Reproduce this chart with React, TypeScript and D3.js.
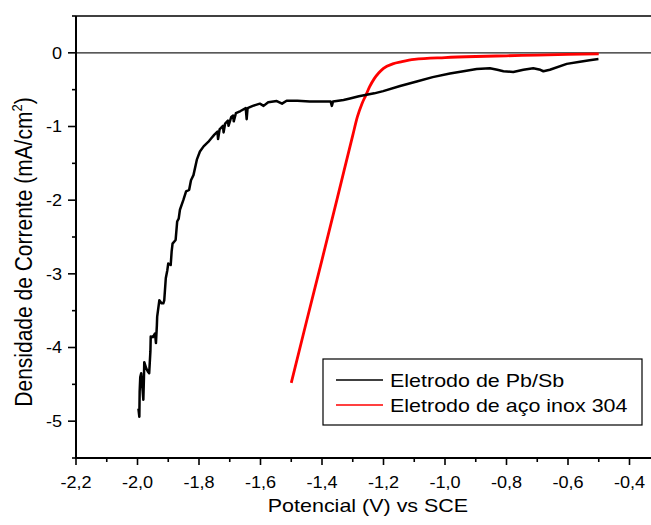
import React from "react";
import * as d3 from "d3";

const W = 651;
const H = 525;

// Pb/Sb electrode series (potential V, current density mA/cm2)
const pbPotential = [
  -1.997, -1.994, -1.993, -1.991, -1.988, -1.984, -1.981, -1.979, -1.978, -1.972,
  -1.966, -1.962, -1.958, -1.957, -1.95, -1.943, -1.94, -1.937, -1.936, -1.929,
  -1.922, -1.916, -1.913, -1.908, -1.903, -1.9, -1.892, -1.889, -1.886, -1.876,
  -1.871, -1.866, -1.862, -1.851, -1.842, -1.832, -1.826, -1.818, -1.807, -1.797,
  -1.785, -1.77, -1.76, -1.75, -1.74, -1.738, -1.733, -1.722, -1.72, -1.715,
  -1.706, -1.704, -1.695, -1.689, -1.687, -1.68, -1.665, -1.648, -1.645, -1.642,
  -1.625, -1.602, -1.59, -1.575, -1.547, -1.53, -1.515, -1.48, -1.44, -1.4,
  -1.372, -1.368, -1.364, -1.33, -1.309, -1.28, -1.255, -1.23, -1.201, -1.146,
  -1.092, -1.04, -0.984, -0.94, -0.897, -0.854, -0.83, -0.81, -0.778, -0.745,
  -0.713, -0.69, -0.68, -0.659, -0.604, -0.561, -0.53, -0.501,
];
const pbCurrent = [
  -4.83, -4.94, -4.6, -4.4, -4.35, -4.55, -4.71, -4.4, -4.2, -4.28,
  -4.33, -4.35, -4.05, -3.85, -3.86, -3.81, -3.94, -3.7, -3.58, -3.36,
  -3.4, -3.4, -3.36, -3.06, -2.95, -2.86, -2.88, -2.7, -2.59, -2.54,
  -2.29, -2.25, -2.13, -2.0, -1.88, -1.86, -1.73, -1.66, -1.45, -1.34,
  -1.27, -1.21, -1.16, -1.11, -1.07, -1.17, -1.04, -0.99, -1.08, -0.96,
  -0.92, -0.99, -0.87, -0.85, -0.93, -0.82, -0.79, -0.75, -0.9, -0.75,
  -0.72, -0.69, -0.72, -0.67, -0.655, -0.69, -0.65, -0.65, -0.66, -0.66,
  -0.66, -0.72, -0.66, -0.64, -0.62, -0.59, -0.57, -0.55, -0.52, -0.45,
  -0.39, -0.33, -0.28, -0.25, -0.22, -0.21, -0.23, -0.25, -0.26, -0.23,
  -0.21, -0.23, -0.25, -0.23, -0.15, -0.12, -0.1, -0.085,
];

// Stainless steel 304 electrode series
const inoxPotential = [
  -1.5, -1.45, -1.4, -1.35, -1.3, -1.285, -1.27, -1.258, -1.245, -1.23,
  -1.215, -1.2, -1.17, -1.14, -1.1, -1.0, -0.9, -0.8, -0.7, -0.6, -0.5,
];
const inoxCurrent = [
  -4.48, -3.64, -2.81, -1.97, -1.12, -0.87, -0.69, -0.58, -0.46, -0.35,
  -0.27, -0.21, -0.15, -0.12, -0.09, -0.065, -0.05, -0.04, -0.03, -0.02, -0.015,
];

const xMajorTicks = [-2.2, -2.0, -1.8, -1.6, -1.4, -1.2, -1.0, -0.8, -0.6, -0.4];
const xMinorTicks = [-2.1, -1.9, -1.7, -1.5, -1.3, -1.1, -0.9, -0.7, -0.5, -0.3];
const yMajorTicks = [0, -1, -2, -3, -4, -5];
const yMinorTicks = [0.5, -0.5, -1.5, -2.5, -3.5, -4.5, -5.5];

const seriesNames = ["Eletrodo de Pb/Sb", "Eletrodo de aço inox 304"];
const seriesColors = ["#000000", "#ff0000"];

const fmt = (v: number) => {
  const s = Math.abs(v).toFixed(1).replace(".", ",");
  return (v < 0 ? "-" : "") + s;
};

const SX = 1.13; // horizontal stretch of the lettering

export default function App() {
  const left = 76;
  const top = 16;
  const bottom = 458;
  const x = d3.scaleLinear().domain([-2.2, -0.4]).range([left, 629.5]);
  const y = d3.scaleLinear().domain([-5.5, 0.5]).range([bottom, top]);

  const line = d3
    .line<[number, number]>()
    .x((d) => x(d[0]))
    .y((d) => y(d[1]));
  const smoothLine = d3
    .line<[number, number]>()
    .x((d) => x(d[0]))
    .y((d) => y(d[1]))
    .curve(d3.curveMonotoneX);

  const pbData: [number, number][] = pbPotential.map((p, i) => [p, pbCurrent[i]]);
  const inoxData: [number, number][] = inoxPotential.map((p, i) => [p, inoxCurrent[i]]);

  const font = "'Liberation Sans', Arial, sans-serif";

  return (
    <svg
      width={W}
      height={H}
      style={{ position: "absolute", left: 0, top: 0, background: "#fff" }}
      fontFamily={font}
    >
      {/* top frame line */}
      <line x1={left} x2={W} y1={top} y2={top} stroke="#000" strokeWidth={1.6} />
      {/* zero line */}
      <line x1={left} x2={W} y1={y(0)} y2={y(0)} stroke="#222" strokeWidth={1.3} />

      {/* data */}
      <path d={smoothLine(inoxData) || ""} fill="none" stroke={seriesColors[1]} strokeWidth={2.8} strokeLinejoin="round" />
      <path d={line(pbData) || ""} fill="none" stroke={seriesColors[0]} strokeWidth={2.5} strokeLinejoin="round" />

      {/* left axis */}
      <line x1={left} x2={left} y1={top} y2={bottom} stroke="#000" strokeWidth={2} />
      {yMajorTicks.map((t) => (
        <g key={"ym" + t}>
          <line x1={left - 8} x2={left} y1={y(t)} y2={y(t)} stroke="#000" strokeWidth={1.6} />
          <text
            transform={`translate(${left - 14}, ${y(t)}) scale(${SX}, 1)`}
            dy="0.36em"
            textAnchor="end"
            fontSize={16}
          >
            {t === 0 ? "0" : String(t)}
          </text>
        </g>
      ))}
      {yMinorTicks.map((t) => (
        <line key={"yn" + t} x1={left - 4} x2={left} y1={y(t)} y2={y(t)} stroke="#000" strokeWidth={1.6} />
      ))}

      {/* bottom axis */}
      <line x1={left - 1} x2={W} y1={bottom} y2={bottom} stroke="#000" strokeWidth={2} />
      {xMajorTicks.map((t) => (
        <g key={"xm" + t}>
          <line x1={x(t)} x2={x(t)} y1={bottom} y2={bottom + 7} stroke="#000" strokeWidth={1.6} />
          <text
            transform={`translate(${x(t)}, ${bottom + 30}) scale(${SX}, 1)`}
            textAnchor="middle"
            fontSize={16}
          >
            {fmt(t)}
          </text>
        </g>
      ))}
      {xMinorTicks.map((t) => (
        <line key={"xn" + t} x1={x(t)} x2={x(t)} y1={bottom} y2={bottom + 4} stroke="#000" strokeWidth={1.6} />
      ))}

      {/* axis titles */}
      <text transform={`translate(368, 512) scale(${SX}, 1)`} textAnchor="middle" fontSize={19}>
        Potencial (V) vs SCE
      </text>
      <text
        transform={`translate(32, 252) rotate(-90) scale(1, ${SX})`}
        textAnchor="middle"
        fontSize={21}
      >
        Densidade de Corrente (mA/cm
        <tspan fontSize={13} dy={-9}>2</tspan>
        <tspan dy={9}>)</tspan>
      </text>

      {/* legend */}
      <rect x={323} y={359} width={319} height={66} fill="#fff" stroke="#000" strokeWidth={1.2} />
      {seriesNames.map((name, i) => (
        <g key={name}>
          <line
            x1={336}
            x2={383}
            y1={380 + i * 25}
            y2={380 + i * 25}
            stroke={seriesColors[i]}
            strokeWidth={1.6}
          />
          <text
            transform={`translate(390, ${380 + i * 25}) scale(${SX}, 1)`}
            dy="0.36em"
            fontSize={19}
          >
            {name}
          </text>
        </g>
      ))}
    </svg>
  );
}
